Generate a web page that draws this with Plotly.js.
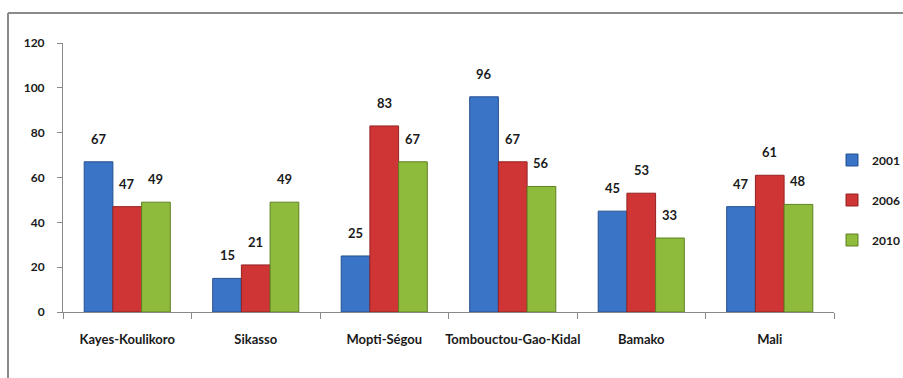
<!DOCTYPE html>
<html>
<head>
<meta charset="utf-8">
<script src="https://cdn.plot.ly/plotly-3.0.1.min.js"></script>
<style>
  html, body { margin: 0; padding: 0; background: #ffffff; }
  #chart { width: 903px; height: 378px; }
</style>
</head>
<body>
<div id="chart"></div>
<script>
// Regions and the three survey years
const regions = ["Kayes-Koulikoro", "Sikasso", "Mopti-Ségou", "Tombouctou-Gao-Kidal", "Bamako", "Mali"];
const years = ["2001", "2006", "2010"];
const values2001 = [67, 15, 25, 96, 45, 47];
const values2006 = [47, 21, 83, 67, 53, 61];
const values2010 = [49, 49, 67, 56, 33, 48];
const yTicks = [0, 20, 40, 60, 80, 100, 120];

const series = [values2001, values2006, values2010];
const fills = ["#3a74c6", "#cf3535", "#8fbb3c"];
const edges = ["#24508f", "#942222", "#5f8022"];

const FONT = "Lato, 'Open Sans', sans-serif";

// Plot-area geometry in pixels, used to place value labels over each bar
const W = 903, H = 378;
const margin = { l: 63, r: 69, t: 43, b: 66, autoexpand: false };
const plotW = W - margin.l - margin.r;
const plotH = H - margin.t - margin.b;
const bargap = 0.33;
const catPx = plotW / regions.length;
const barPx = catPx * (1 - bargap) / series.length;

const traces = series.map((vals, j) => ({
  type: "bar",
  name: years[j],
  x: regions,
  y: vals,
  legendgroup: years[j],
  marker: { color: fills[j], line: { color: edges[j], width: 1 } },
  hoverinfo: "x+y+name"
}));

const annotations = [];
series.forEach((vals, j) => {
  vals.forEach((v, i) => {
    annotations.push({
      x: regions[i], y: v, xref: "x", yref: "y",
      text: String(v), showarrow: false,
      xanchor: "center", yanchor: "bottom",
      xshift: (j - 1) * barPx, yshift: 13,
      font: { family: FONT, size: 13, color: "#1a1a1a", weight: "bold" }
    });
  });
});

// Frame lines along the top and left of the chart area
const frameTop = (H - margin.b - 13) / plotH;
const frameLeft = (8 - margin.l) / plotW;
const shapes = [
  { type: "line", xref: "paper", yref: "paper",
    x0: frameLeft, x1: (W + 5 - margin.l) / plotW, y0: frameTop, y1: frameTop,
    line: { color: "#8a8a8a", width: 2 } },
  { type: "line", xref: "paper", yref: "paper",
    x0: frameLeft, x1: frameLeft, y0: frameTop, y1: -(margin.b + 5) / plotH,
    line: { color: "#8a8a8a", width: 2 } }
];

const layout = {
  width: W, height: H,
  margin: margin,
  paper_bgcolor: "#ffffff",
  plot_bgcolor: "#ffffff",
  barmode: "group",
  bargap: bargap,
  bargroupgap: 0,
  showlegend: true,
  legend: {
    xref: "container", yref: "container",
    x: 832 / W, xanchor: "left", y: 1 - 200 / H, yanchor: "middle",
    traceorder: "grouped", tracegroupgap: 21,
    font: { family: FONT, size: 12, color: "#1a1a1a", weight: "bold" },
    itemwidth: 30, bgcolor: "rgba(0,0,0,0)"
  },
  xaxis: {
    type: "category",
    tickson: "boundaries",
    tickangle: 0,
    ticks: "outside", ticklen: 6, tickcolor: "#8a8a8a",
    showline: true, linecolor: "#8a8a8a", linewidth: 1,
    showgrid: false, zeroline: false,
    tickfont: { family: FONT, size: 13, color: "#1a1a1a", weight: "bold" },
    ticklabelstandoff: 15
  },
  yaxis: {
    range: [0, 120],
    tickvals: yTicks,
    ticks: "outside", ticklen: 5, tickcolor: "#8a8a8a",
    showline: true, linecolor: "#8a8a8a", linewidth: 1,
    showgrid: false, zeroline: false,
    tickfont: { family: FONT, size: 12, color: "#1a1a1a", weight: "bold" },
    ticklabelstandoff: 10
  },
  annotations: annotations,
  shapes: shapes
};

Plotly.newPlot("chart", traces, layout, { displayModeBar: false, staticPlot: true });
</script>
</body>
</html>
